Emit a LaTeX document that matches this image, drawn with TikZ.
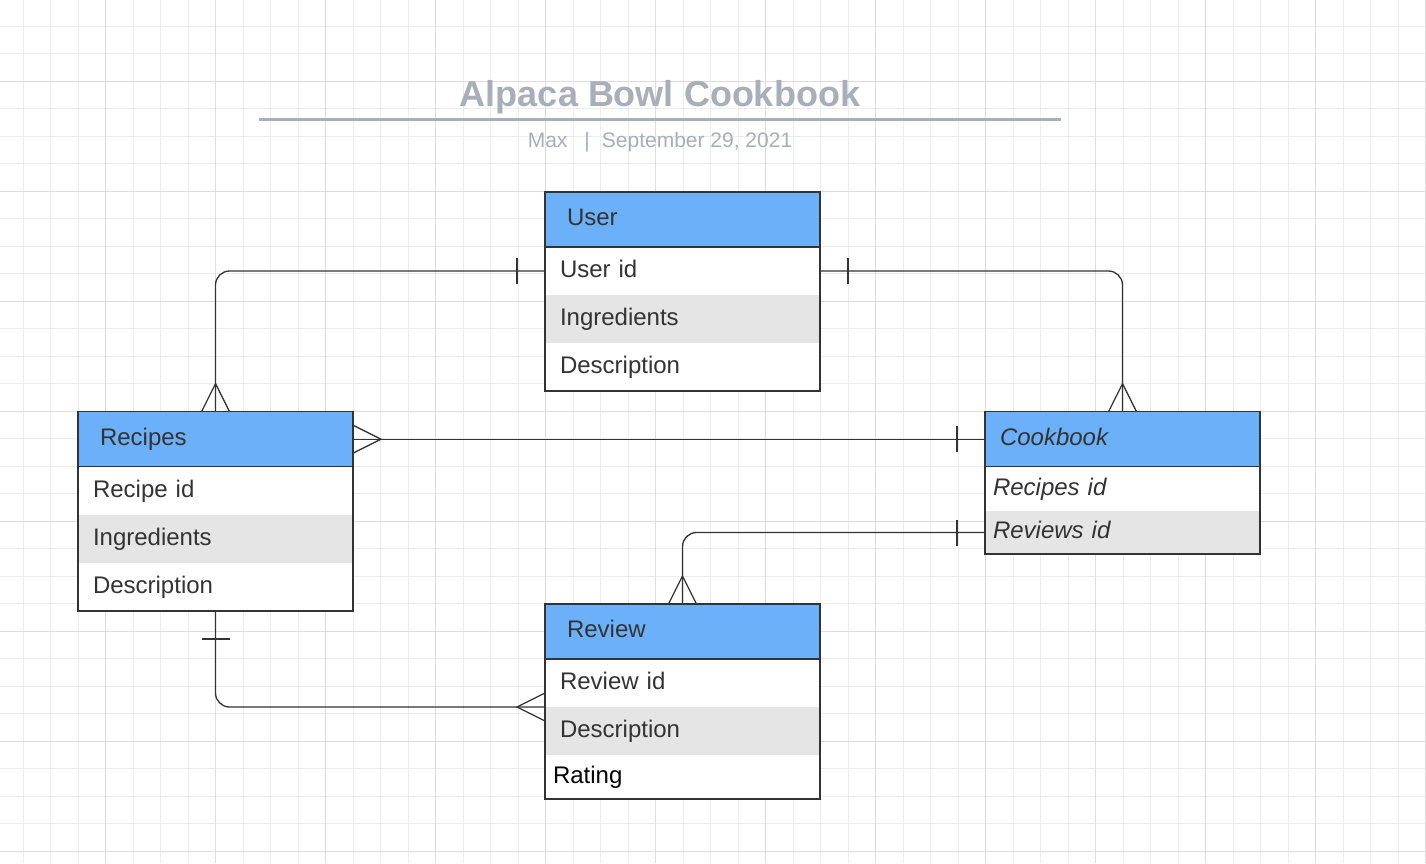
\documentclass[tikz,border=0pt]{standalone}
\usepackage{fontspec}
\setmainfont{Liberation Sans}
\usepackage{xcolor}
\usepackage{tikz}
\usetikzlibrary{positioning, calc, fit}
\definecolor{erdark}{RGB}{51,51,51}
\definecolor{erblue}{RGB}{108,176,250}
\definecolor{errow}{RGB}{229,229,229}
\definecolor{ttlgray}{RGB}{169,175,184}
\definecolor{gridmin}{RGB}{237,237,237}
\definecolor{gridmaj}{RGB}{221,221,221}
\tikzset{
  hdr/.style={rectangle, fill=erblue, draw=erdark, line width=1.4pt,
    minimum width=275pt, minimum height=55pt, inner xsep=22pt, text width=231pt,
    inner ysep=0pt, outer sep=0pt, align=left, text height=17pt, text depth=5pt,
    text=erdark, font=\fontsize{24}{28}\selectfont},
  row/.style={rectangle, fill=white, minimum width=275pt, minimum height=48pt,
    inner xsep=15pt, text width=245pt, inner ysep=0pt, outer sep=0pt, align=left,
    text height=17pt, text depth=5pt, text=erdark, font=\fontsize{24}{28}\selectfont},
  ebox/.style={rectangle, draw=erdark, line width=1.4pt, inner sep=0pt},
  conn/.style={line width=1.3pt, color=erdark, rounded corners=14pt},
  tickmark/.style={line width=1.3pt, color=erdark}
}

\begin{document}
\begin{tikzpicture}[x=1pt, y=-1pt]
    \tikzset{
      gridline/.style={line width=1pt, color=gridmin},
      gridmajor/.style={line width=1pt, color=gridmaj},
      shade/.style={fill=errow},
      slim/.style={inner xsep=8pt, text width=259pt, minimum height=44pt}
    }
    \useasboundingbox (0,0) rectangle (1426,863);
    \fill[white] (0,0) rectangle (1426,863);

    % Grid
    \foreach \gx in {0,...,52} \draw[gridline] ({-4.5+27.5*\gx},0) -- ({-4.5+27.5*\gx},863);
    \foreach \gy in {0,...,32} \draw[gridline] (0,{-1.5+27.5*\gy}) -- (1426,{-1.5+27.5*\gy});
    \foreach \gx in {0,...,13} \draw[gridmajor] ({-4.5+110*\gx},0) -- ({-4.5+110*\gx},863);
    \foreach \gy in {0,...,8} \draw[gridmajor] (0,{-29+110*\gy}) -- (1426,{-29+110*\gy});

    % Title
    \node[anchor=base, text=ttlgray, font=\fontsize{36}{40}\selectfont\bfseries] (title) at (660,106) {Alpaca Bowl Cookbook};
    \draw[line width=3pt, color=ttlgray] (259,119) -- (1061,119);
    \node[anchor=base, text=ttlgray, font=\fontsize{21}{24}\selectfont] (subtitle) at (660,147.5) {Max\hspace{17pt}|\hspace{12pt}September 29, 2021};

    % User
    \node[row] (userid) at (682.5,271) {User id};
    \node[row, shade] (useringr) at (682.5,319) {Ingredients};
    \node[row] (userdesc) at (682.5,367) {Description};
    \node[hdr] (user) at (682.5,219.5) {User};
    \node[ebox, fit=(user)(userdesc)] (userbox) {};

    % Recipes
    \node[row] (recid) at (215.5,491) {Recipe id};
    \node[row, shade] (recingr) at (215.5,539) {Ingredients};
    \node[row] (recdesc) at (215.5,587) {Description};
    \node[hdr] (recipes) at (215.5,439.2) {Recipes};
    \node[ebox, fit=(recipes)(recdesc)] (recbox) {};

    % Cookbook
    \node[row, slim, font=\fontsize{24}{28}\selectfont\itshape] (cbrec) at (1122.5,489) {Recipes id};
    \node[row, slim, shade, minimum height=43pt, font=\fontsize{24}{28}\selectfont\itshape] (cbrev) at (1122.5,532.5) {Reviews id};
    \node[hdr, inner xsep=15pt, text width=245pt, font=\fontsize{24}{28}\selectfont\itshape] (cookbook) at (1122.5,439.2) {Cookbook};
    \node[ebox, fit=(cookbook)(cbrev)] (cbbox) {};

    % Review
    \node[row] (revid) at (682.5,683) {Review id};
    \node[row, shade] (revdesc) at (682.5,731) {Description};
    \node[row, slim, text=black] (revrating) at (682.5,777) {Rating};
    \node[hdr] (review) at (682.5,631.5) {Review};
    \node[ebox, fit=(review)(revrating)] (revbox) {};

    % User - Recipes
    \draw[conn] (userid.west) -| (recipes.north);
    \draw[tickmark] ($(userid.west)+(-28,-13)$) -- ++(0,26);
    \draw[tickmark] ($(recipes.north)+(-14,0)$) -- ($(recipes.north)+(0,-28)$) -- ($(recipes.north)+(14,0)$);

    % User - Cookbook
    \draw[conn] (userid.east) -| (cookbook.north);
    \draw[tickmark] ($(userid.east)+(28,-13)$) -- ++(0,26);
    \draw[tickmark] ($(cookbook.north)+(-14,0)$) -- ($(cookbook.north)+(0,-28)$) -- ($(cookbook.north)+(14,0)$);

    % Recipes - Cookbook
    \draw[conn] (recipes.east) -- (cookbook.west);
    \draw[tickmark] ($(recipes.east)+(0,-14)$) -- ($(recipes.east)+(28,0)$) -- ($(recipes.east)+(0,14)$);
    \draw[tickmark] ($(cookbook.west)+(-28,-13)$) -- ++(0,26);

    % Cookbook - Review
    \draw[conn] (cbrev.west) -| (review.north);
    \draw[tickmark] ($(cbrev.west)+(-28,-13)$) -- ++(0,26);
    \draw[tickmark] ($(review.north)+(-14,0)$) -- ($(review.north)+(0,-28)$) -- ($(review.north)+(14,0)$);

    % Recipes - Review
    \draw[conn] (recdesc.south) |- (revid.south west);
    \draw[tickmark] ($(recdesc.south)+(-14,28)$) -- ++(28,0);
    \draw[tickmark] ($(revid.south west)+(0,-14)$) -- ($(revid.south west)+(-28,0)$) -- ($(revid.south west)+(0,14)$);
\end{tikzpicture}
\end{document}
